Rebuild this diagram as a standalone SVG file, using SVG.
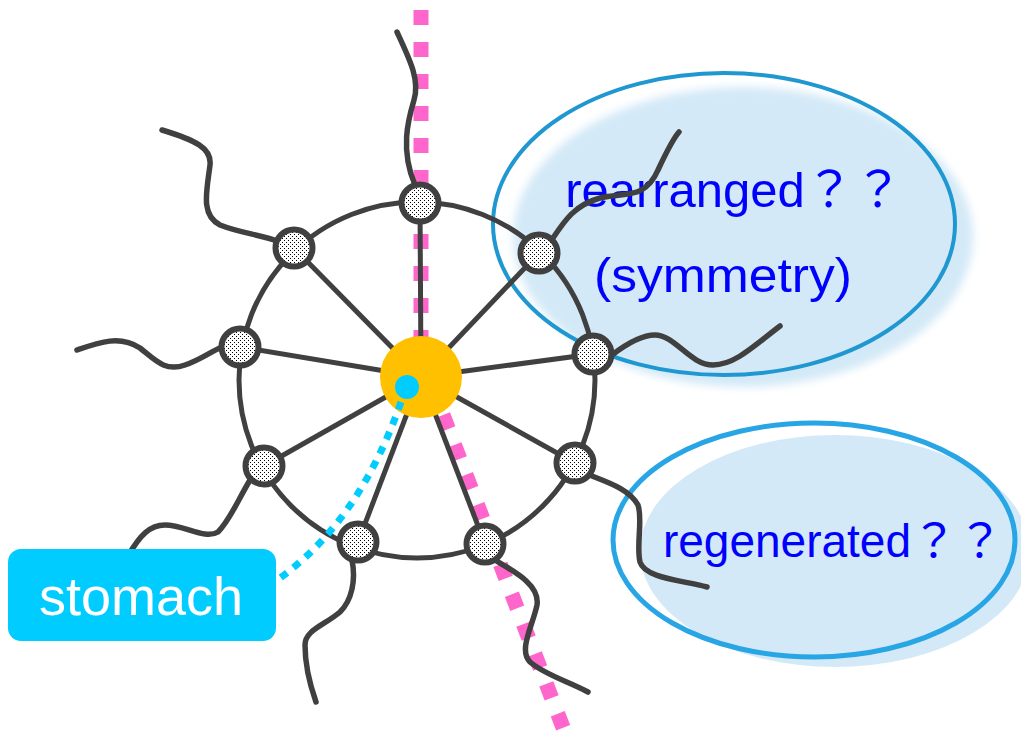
<svg xmlns="http://www.w3.org/2000/svg" width="1021" height="734" viewBox="0 0 1021 734">
  <defs>
    <pattern id="dots" width="4" height="4" patternUnits="userSpaceOnUse">
      <rect width="4" height="4" fill="#ffffff"/>
      <rect x="0" y="0" width="1" height="1" fill="#000"/>
      <rect x="2" y="2" width="1" height="1" fill="#000"/>
    </pattern>
    <filter id="soft" x="-10%" y="-10%" width="120%" height="120%">
      <feGaussianBlur stdDeviation="4"/>
    </filter>
  </defs>
  <style>
    .arm { fill: none; stroke: #404040; stroke-width: 5.5; stroke-linecap: round; stroke-linejoin: round; }
    .spoke { stroke: #404040; stroke-width: 5; }
    .node { fill: url(#dots); stroke: #404040; stroke-width: 6; }
    .note { font-family: "Liberation Sans", "Noto Sans CJK JP", sans-serif; fill: #0000ff; }
  </style>

  <!-- question bubbles -->
  <g id="bubble-rearranged">
    <ellipse cx="743" cy="237" rx="230" ry="150" fill="#d3e9f7" filter="url(#soft)"/>
    <ellipse cx="724" cy="224" rx="231" ry="151" fill="none" stroke="#1f97d0" stroke-width="4"/>
    <text class="note" x="734" y="207" font-size="49" text-anchor="middle">rearranged？？</text>
    <text class="note" x="723" y="292" font-size="49" text-anchor="middle" textLength="258" lengthAdjust="spacingAndGlyphs">(symmetry)</text>
  </g>
  <g id="bubble-regenerated">
    <ellipse cx="835" cy="551" rx="195" ry="116" fill="#d3e9f7"/>
    <ellipse cx="814" cy="540" rx="201" ry="117" fill="none" stroke="#27a5e5" stroke-width="5"/>
    <text class="note" x="833" y="557" font-size="46" text-anchor="middle">regenerated？？</text>
  </g>

  <!-- symmetry axis -->
  <g id="axis" fill="none" stroke="#ff66cc" stroke-width="15" stroke-dasharray="15 17">
    <line x1="421" y1="10" x2="421" y2="345"/>
    <line x1="443" y1="415" x2="564" y2="730"/>
  </g>

  <g id="connectors">
    <circle cx="417" cy="380" r="178" fill="none" stroke="#404040" stroke-width="5"/>
    <line class="spoke" x1="421" y1="377" x2="420" y2="203"/>
    <line class="spoke" x1="421" y1="377" x2="294" y2="248"/>
    <line class="spoke" x1="421" y1="377" x2="539" y2="253"/>
    <line class="spoke" x1="421" y1="377" x2="240" y2="347"/>
    <line class="spoke" x1="421" y1="377" x2="593" y2="354"/>
    <line class="spoke" x1="421" y1="377" x2="264" y2="466"/>
    <line class="spoke" x1="421" y1="377" x2="575" y2="463"/>
    <line class="spoke" x1="421" y1="377" x2="358" y2="542"/>
    <line class="spoke" x1="421" y1="377" x2="485" y2="544"/>

    <!-- tentacles -->
    <path class="arm" d="M 397 32 C 410 60, 420 80, 414 100 C 408 120, 400 150, 415 185"/>
    <path class="arm" d="M 162 130 C 195 140, 212 148, 210 165 C 207 190, 200 215, 220 225 C 240 233, 262 235, 280 242"/>
    <path class="arm" d="M 77 350 C 100 342, 120 335, 140 348 C 155 360, 165 372, 185 365 C 200 360, 210 352, 222 347"/>
    <path class="arm" d="M 128 556 C 140 535, 150 525, 165 525 C 185 525, 205 540, 218 532 C 230 520, 238 500, 250 480"/>
    <path class="arm" d="M 352 560 C 356 580, 352 600, 340 612 C 325 625, 305 630, 305 645 C 305 665, 310 685, 316 702"/>
    <path class="arm" d="M 495 560 C 515 572, 540 585, 537 605 C 533 625, 518 650, 530 662 C 545 675, 570 682, 588 692"/>
    <path class="arm" d="M 592 476 C 610 483, 630 490, 638 505 C 643 520, 636 545, 640 562 C 645 578, 680 580, 707 587"/>
    <path class="arm" d="M 612 355 C 625 345, 640 335, 655 335 C 675 335, 690 365, 713 365 C 735 365, 755 345, 780 326"/>
    <path class="arm" d="M 553 238 C 565 220, 575 205, 600 198 C 625 192, 645 200, 658 170 C 665 155, 672 140, 679 132"/>
  </g>

  <g id="hub">
    <circle cx="421" cy="377" r="41" fill="#ffc000"/>
  </g>

  <g id="nodes">
    <circle class="node" cx="420" cy="203" r="18.5"/>
    <circle class="node" cx="294" cy="248" r="18.5"/>
    <circle class="node" cx="539" cy="253" r="18.5"/>
    <circle class="node" cx="240" cy="347" r="18.5"/>
    <circle class="node" cx="593" cy="354" r="18.5"/>
    <circle class="node" cx="264" cy="466" r="18.5"/>
    <circle class="node" cx="575" cy="463" r="18.5"/>
    <circle class="node" cx="358" cy="542" r="18.5"/>
    <circle class="node" cx="485" cy="544" r="18.5"/>
  </g>

  <g id="stomach-pointer">
    <circle cx="407" cy="387" r="12" fill="#00ccff"/>
    <path d="M 401 402 Q 360 520 280 578" fill="none" stroke="#00ccff" stroke-width="7" stroke-dasharray="8 8"/>
  </g>

  <g id="stomach">
    <rect x="8" y="549" width="268" height="92" rx="13" fill="#00ccff"/>
    <text x="141" y="615" font-family="Liberation Sans, Arial, sans-serif" font-size="54" fill="#ffffff" text-anchor="middle">stomach</text>
  </g>
</svg>
